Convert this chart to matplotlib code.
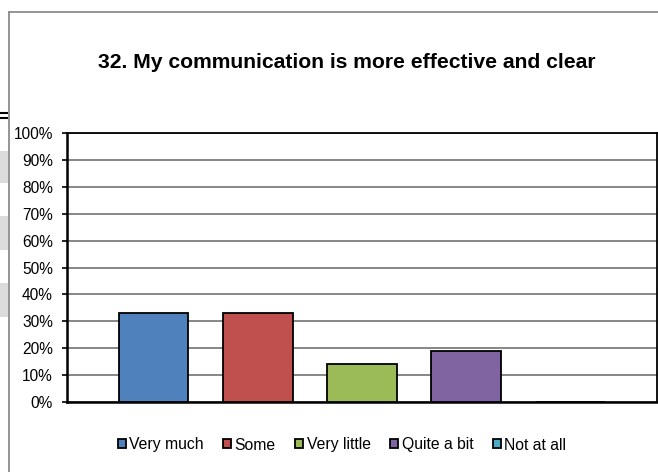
import matplotlib
matplotlib.use("Agg")
import matplotlib.pyplot as plt
from matplotlib.patches import Rectangle
from matplotlib.lines import Line2D

plt.rcParams['font.family'] = ['Liberation Sans', 'DejaVu Sans']

title = "32. My communication is more effective and clear"
categories = ["Very much", "Some", "Very little", "Quite a bit", "Not at all"]
values = [33, 33, 14, 19, 0]
colors = ["#4F81BD", "#C0504D", "#9BBB59", "#8064A2", "#4BACC6"]
yticks = [0, 10, 20, 30, 40, 50, 60, 70, 80, 90, 100]
ytick_labels = [f"{v}%" for v in yticks]

W, H = 658, 472
fig = plt.figure(figsize=(W / 100, H / 100), dpi=100)

# plot area: x 67..657, y 133..402 (pixels from top)
ax = fig.add_axes([67 / W, 1 - 402 / H, 590 / W, 269 / H])
for i, (c, v, col) in enumerate(zip(categories, values, colors)):
    ax.bar(i, v, width=0.67, color=col, edgecolor="black", linewidth=1.3, label=c, zorder=3)

ax.set_ylim(0, 100)
ax.set_xlim(-0.83, 4.83)
ax.set_yticks(yticks)
ax.set_yticklabels(ytick_labels, fontsize=11.2)
ax.set_xticks([])
ax.yaxis.grid(True, color="#868686", linewidth=1.4, zorder=0)
ax.tick_params(axis="y", direction="out", length=3.6, width=1.2, color="black", pad=6.5)
for s in ax.spines.values():
    s.set_color("black")
    s.set_linewidth(1.3)
ax.spines["left"].set_linewidth(1.8)
ax.spines["bottom"].set_linewidth(1.8)

# title
fig.text(347 / W, 1 - 62 / H, title, ha="center", va="center",
         fontsize=15.2, fontweight="bold")

# legend
handles = [Rectangle((0, 0), 1, 1, facecolor=col, edgecolor="black", linewidth=1.3)
           for col in colors]
fig.legend(handles, categories, loc="center", bbox_to_anchor=(342 / W, 1 - 445 / H),
           ncol=5, frameon=False, fontsize=11.3, handlelength=0.5, handleheight=0.5,
           handletextpad=0.22, columnspacing=1.25, borderpad=0)

# chart frame
fig.add_artist(Line2D([9 / W, 9 / W], [0, 1 - 12 / H], color="#8c8c8c", linewidth=1.3,
                      transform=fig.transFigure))
fig.add_artist(Line2D([9 / W, 1], [1 - 12 / H, 1 - 12 / H], color="#8c8c8c", linewidth=1.3,
                      transform=fig.transFigure))

# left-edge artifacts
for y0, y1 in [(151, 183), (216, 250), (283, 317)]:
    fig.add_artist(Rectangle((0, 1 - y1 / H), 8 / W, (y1 - y0) / H,
                             facecolor="#dcdcdc", edgecolor="none", transform=fig.transFigure))
for yy in [113, 118]:
    fig.add_artist(Line2D([0, 7 / W], [1 - yy / H, 1 - yy / H], color="black", linewidth=1.5,
                          transform=fig.transFigure))

fig.savefig("out.png", dpi=100)
